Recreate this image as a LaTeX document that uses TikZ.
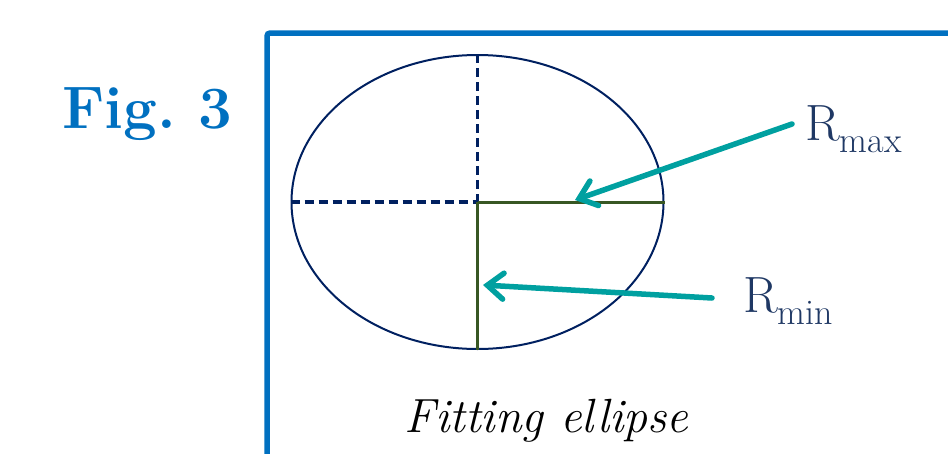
\documentclass[tikz,border=0pt]{standalone}
\usepackage{tikz}
\usetikzlibrary{arrows.meta,positioning,shapes.geometric}
\definecolor{figblue}{RGB}{0,112,192}
\definecolor{navy}{RGB}{0,32,96}
\definecolor{labnavy}{RGB}{31,56,100}
\definecolor{olive}{RGB}{56,87,35}
\definecolor{pointteal}{RGB}{0,160,160}
\colorlet{figink}{navy}
\colorlet{figaxis}{olive}

\begin{document}
\begin{tikzpicture}[
  x=1pt, y=-1pt,
  frame/.style={draw=figblue, line width=5.5pt, rounded corners=3pt},
  fitbox/.style={ellipse, draw=figink, line width=2pt, minimum width=372pt, minimum height=294pt, inner sep=0pt},
  halfaxis/.style={draw=figink, line width=3.5pt, dash pattern=on 9pt off 5pt},
  radius/.style={draw=figaxis, line width=3pt},
  pointer/.style={draw=pointteal, line width=5.5pt, line cap=round,
    -{Straight Barb[length=16pt, width=26pt, line cap=round]}},
  lab/.style={inner sep=0pt, anchor=base west, text=labnavy},
]
  \useasboundingbox (0,0) rectangle (948,453);
  % frame and title
  \draw[frame] (267,470) |- (970,33);
  \node[inner sep=0pt, anchor=base west, text=figblue,
    font=\fontsize{60}{60}\selectfont\bfseries] (title) at (62,128) {Fig.\ 3};
  % fitted ellipse with its half axes
  \node[fitbox] (E) at (477.5,202) {};
  \draw[halfaxis] (E.north) -- (E.center);
  \draw[halfaxis] (E.west) -- (E.center);
  \draw[radius] (E.center) -- (E.east);
  \draw[radius] (E.center) -- (E.south);
  \coordinate (tipmax) at (575,200);
  \coordinate (tipmin) at (483,285);
  % labels and pointers
  \foreach \n/\x/\y/\sub in {Rmax/805/140/max, Rmin/743/312/min} {
    \node[lab, font=\fontsize{51}{51}\selectfont] (\n) at (\x,\y)
      {R\raisebox{-12pt}{\fontsize{36}{36}\selectfont\sub}};
  }
  \coordinate (Rmaxtail) at (792,124);
  \coordinate (Rmintail) at (712,298);
  \draw[pointer] (Rmaxtail) -- (tipmax);
  \draw[pointer] (Rmintail) -- (tipmin);
  \node[inner sep=0pt, anchor=base, font=\fontsize{48}{48}\selectfont\itshape] (caption) at (546.5,432) {Fitting ellipse};
\end{tikzpicture}
\end{document}
